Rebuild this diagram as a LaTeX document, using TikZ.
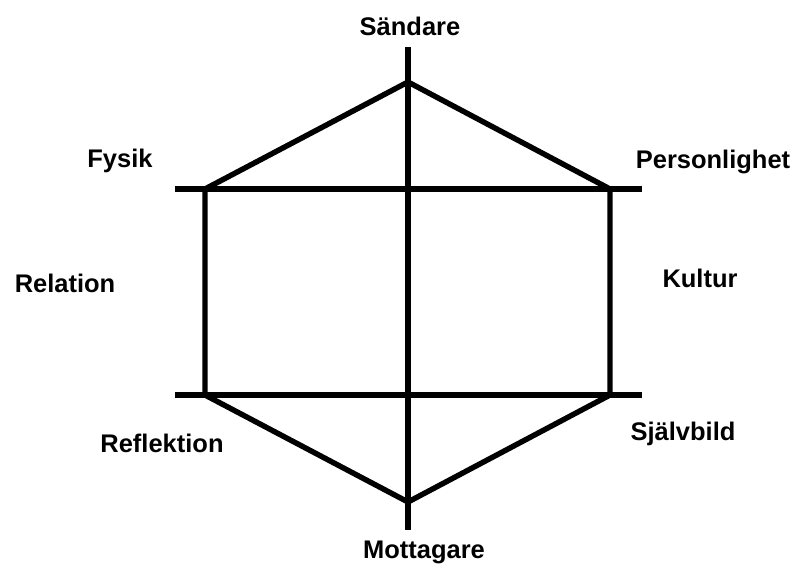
\documentclass[tikz,border=0pt]{standalone}
\usepackage{xcolor}
\usepackage{fontspec}
\setmainfont{Liberation Sans}
\usepackage{tikz}
\usetikzlibrary{positioning,calc}
\definecolor{inkblack}{RGB}{0,0,0}
\tikzset{
  % --- Kommunikationsmodell --------------------------------------------------
  hexline/.style={draw=inkblack, line width=3.1pt, line join=miter},
  axisline/.style={draw=inkblack, line width=3.1pt},
  sidelabel/.style={
    anchor=base, inner sep=0pt, text=inkblack,
    font=\fontsize{14.5}{17}\selectfont\bfseries
  },
}

\begin{document}
\begin{tikzpicture}[x=0.02cm, y=-0.02cm]
    \useasboundingbox (0,0) rectangle (795,565);

    % hörn och ändpunkter
    \coordinate (top) at (408,82);
    \coordinate (bottom) at (408,502);
    \coordinate (upleft) at (205,189);
    \coordinate (upright) at (610,189);
    \coordinate (lowleft) at (205,395);
    \coordinate (lowright) at (610,395);
    \coordinate (axistop) at (408,47);
    \coordinate (axisbottom) at (408,530);
    \coordinate (upleftend) at (175,189);
    \coordinate (uprightend) at (642,189);
    \coordinate (lowleftend) at (175,395);
    \coordinate (lowrightend) at (642,395);

    \draw[hexline] (top) -- (upright) -- (lowright) -- (bottom) -- (lowleft) -- (upleft) -- cycle;
    \draw[axisline] (axistop) -- (axisbottom);
    \draw[axisline] (upleftend) -- (uprightend);
    \draw[axisline] (lowleftend) -- (lowrightend);

    \node[sidelabel] (sender) at (410,35) {Sändare};
    \node[sidelabel] (personality) at (713,168) {Personlighet};
    \node[sidelabel] (physics) at (120,167) {Fysik};
    \node[sidelabel] (relation) at (65,292) {Relation};
    \node[sidelabel] (culture) at (700,287) {Kultur};
    \node[sidelabel] (reflection) at (162,452) {Reflektion};
    \node[sidelabel] (selfimage) at (683,440) {Självbild};
    \node[sidelabel] (receiver) at (424,558) {Mottagare};
  \end{tikzpicture}
\end{document}
